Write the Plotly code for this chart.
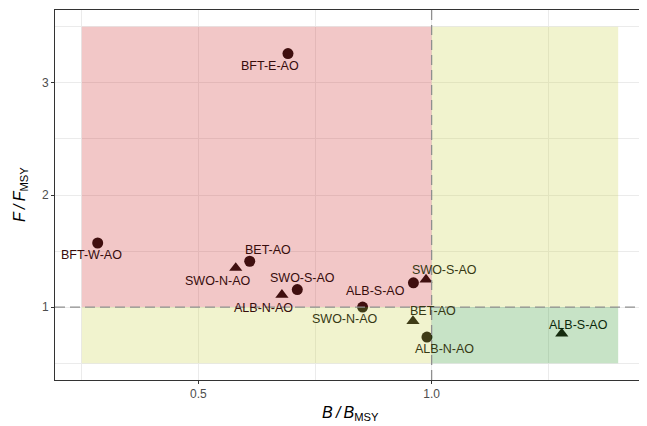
import plotly.graph_objects as go

# ---- data ----
stocks = ["BFT-E-AO", "BFT-W-AO", "BET-AO", "SWO-N-AO", "SWO-S-AO", "ALB-N-AO",
          "ALB-S-AO", "SWO-S-AO", "SWO-N-AO", "BET-AO", "ALB-N-AO", "ALB-S-AO"]
b_ratio = [0.692, 0.284, 0.610, 0.580, 0.712, 0.679,
           0.961, 0.988, 0.852, 0.960, 0.990, 1.279]
f_ratio = [3.261, 1.572, 1.409, 1.350, 1.157, 1.110,
           1.217, 1.246, 1.000, 0.876, 0.733, 0.764]
shape = ["circle", "circle", "circle", "triangle", "circle", "triangle",
         "circle", "triangle", "circle", "triangle", "circle", "triangle"]

# label offsets in pixels (ggrepel-like placement)
lab_dx = [-18, -6, 18, -18, 5, -18, -38, 18, -18, 20, 18, 17]
lab_dy = [-12, -12, 11, -13, 12, -13, -8, 10, -12, 10, -12, 9]
lab_zone = ["red", "red", "red", "red", "red", "red",
            "red", "yellow", "yellow", "yellow", "yellow", "green"]

x_ticks = [0.5, 1.0]
x_ticktext = ["0.5", "1.0"]
y_ticks = [1, 2, 3]
y_ticktext = ["1", "2", "3"]

# zones: (x0, x1, y0, y1, colour)
zones = [
    (0.25, 1.0, 1.0, 3.5, "red"),
    (1.0, 1.4, 1.0, 3.5, "yellow"),
    (0.25, 1.0, 0.5, 1.0, "yellow"),
    (1.0, 1.4, 0.5, 1.0, "green"),
]

ALPHA = 0.27
zone_rgb = {"red": (207, 48, 48), "yellow": (203, 211, 74), "green": (48, 151, 44)}
def tint(name):
    r, g, b = zone_rgb[name]
    return "rgb(%d,%d,%d)" % (r * ALPHA, g * ALPHA, b * ALPHA)

FONT = "Liberation Sans, Arial, sans-serif"

fig = go.Figure()
for shp, sym, size in [("circle", "circle", 11), ("triangle", "triangle-up", 11.5)]:
    idx = [i for i, s in enumerate(shape) if s == shp]
    fig.add_trace(go.Scatter(
        x=[b_ratio[i] for i in idx], y=[f_ratio[i] for i in idx],
        mode="markers", marker=dict(symbol=sym, size=size, color="rgb(12,4,4)", line=dict(width=0)),
        showlegend=False, hoverinfo="skip"))

shapes = []
for x0, x1, y0, y1, c in zones:
    r, g, b = zone_rgb[c]
    shapes.append(dict(type="rect", xref="x", yref="y", x0=x0, x1=x1, y0=y0, y1=y1,
                       fillcolor="rgb(%d,%d,%d)" % (r, g, b), opacity=ALPHA,
                       line=dict(width=0), layer="above"))
shapes.append(dict(type="line", xref="x", yref="paper", x0=1, x1=1, y0=0, y1=1,
                   line=dict(color="#8f8f8f", width=1.3, dash="10px,5px"), layer="above"))
shapes.append(dict(type="line", xref="paper", yref="y", x0=0, x1=1, y0=1, y1=1,
                   line=dict(color="#8f8f8f", width=1.3, dash="10px,5px"), layer="above"))

annotations = []
for i, name in enumerate(stocks):
    annotations.append(dict(x=b_ratio[i], y=f_ratio[i], xref="x", yref="y", text=name,
                            showarrow=False, xshift=lab_dx[i], yshift=lab_dy[i],
                            font=dict(family=FONT, size=12.5, color=tint(lab_zone[i]))))

# axis titles
annotations.append(dict(x=0.5, y=0, xref="paper", yref="paper", yanchor="middle",
                        text="<i>B</i>&#8201;<i>/</i>&#8201;<i>B</i><sub>MSY</sub>", showarrow=False,
                        yshift=-33, font=dict(family=FONT, size=16, color="black")))
annotations.append(dict(x=0, y=0.5, xref="paper", yref="paper", xanchor="center",
                        text="<i>F</i>&#8201;<i>/</i>&#8201;<i>F</i><sub>MSY</sub>", showarrow=False,
                        textangle=-90, xshift=-35, font=dict(family=FONT, size=16, color="black")))

axis_common = dict(showgrid=True, gridcolor="#EBEBEB", gridwidth=1.1,
                   zeroline=False, showline=True, mirror=True, linecolor="#333333", linewidth=1,
                   ticks="outside", ticklen=3, tickcolor="#333333", tickwidth=1,
                   tickfont=dict(size=12, color="#4D4D4D"), automargin=False)

# page body has an 8px margin, so the figure is sized to the visible area
fig.update_layout(
    width=639, height=418,
    margin=dict(l=47, r=2, t=2, b=46),
    paper_bgcolor="white", plot_bgcolor="white",
    shapes=shapes, annotations=annotations,
    font=dict(family=FONT),
    xaxis=dict(range=[0.1925, 1.4575], tickvals=x_ticks, ticktext=x_ticktext,
               minor=dict(tickvals=[0.25, 0.75, 1.25], showgrid=True, gridcolor="#EBEBEB",
                          gridwidth=0.6, ticks=""),
               **axis_common),
    yaxis=dict(range=[0.35, 3.65], tickvals=y_ticks, ticktext=y_ticktext,
               minor=dict(tickvals=[0.5, 1.5, 2.5, 3.5], showgrid=True, gridcolor="#EBEBEB",
                          gridwidth=0.6, ticks=""),
               **axis_common),
)

fig.write_html("out.html")
